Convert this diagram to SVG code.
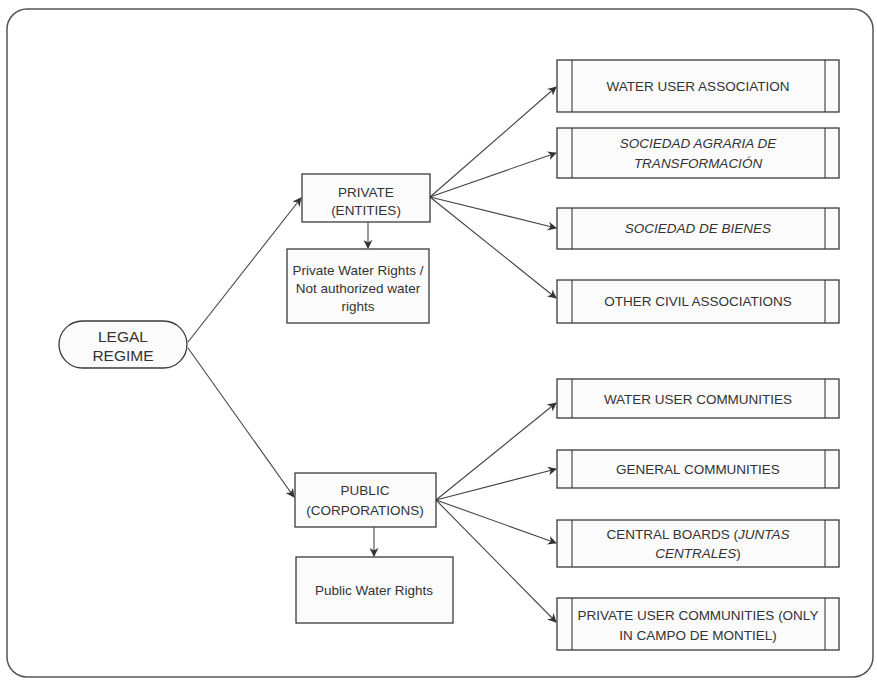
<svg xmlns="http://www.w3.org/2000/svg" width="877" height="680" viewBox="0 0 877 680">
<style>
  .frame{fill:#fff;stroke:#555;stroke-width:1.5}
  .box{fill:#fbfbfb;stroke:#3a3a3a;stroke-width:1.3}
  .sub{fill:none;stroke:#3a3a3a;stroke-width:1.1}
  .t{font-family:"Liberation Sans",Arial,sans-serif;font-size:13.5px;fill:#333;text-anchor:middle}
  .tl{font-family:"Liberation Sans",Arial,sans-serif;font-size:15.5px;fill:#333;text-anchor:middle}
  .i{font-style:italic}
  .c{fill:none;stroke:#444;stroke-width:1.1;marker-end:url(#ah)}
</style>
<defs>
  <marker id="ah" viewBox="0 0 10 10" refX="9" refY="5" markerWidth="9" markerHeight="9" markerUnits="userSpaceOnUse" orient="auto">
    <path d="M0,0 L10,5 L0,10 L3,5 Z" fill="#333"/>
  </marker>
</defs>
<rect class="frame" x="7" y="9" width="866" height="668" rx="20"/>

<g id="connectors">
  <line class="c" x1="188" y1="342" x2="301" y2="198"/>
  <line class="c" x1="188" y1="348" x2="294" y2="497"/>
  <line class="c" x1="368" y1="222" x2="368" y2="248"/>
  <line class="c" x1="374" y1="527" x2="374" y2="556"/>
  <line class="c" x1="430" y1="197" x2="556" y2="87"/>
  <line class="c" x1="430" y1="197" x2="556" y2="153"/>
  <line class="c" x1="430" y1="197" x2="556" y2="228"/>
  <line class="c" x1="430" y1="197" x2="556" y2="298"/>
  <line class="c" x1="436" y1="500" x2="556" y2="403"/>
  <line class="c" x1="436" y1="500" x2="556" y2="469"/>
  <line class="c" x1="436" y1="500" x2="556" y2="543"/>
  <line class="c" x1="436" y1="500" x2="556" y2="622"/>
</g>

<g id="legal-regime">
  <rect class="box" x="59" y="321" width="128" height="47" rx="23.5"/>
  <text class="tl" x="123" y="342">LEGAL</text>
  <text class="tl" x="123" y="361">REGIME</text>
</g>

<g id="private">
  <rect class="box" x="302" y="174" width="128" height="48"/>
  <text class="t" x="366" y="197">PRIVATE</text>
  <text class="t" x="366" y="215">(ENTITIES)</text>
</g>
<g id="private-rights">
  <rect class="box" x="287" y="249" width="142" height="74"/>
  <text class="t" x="358" y="275">Private Water Rights /</text>
  <text class="t" x="358" y="293">Not authorized water</text>
  <text class="t" x="358" y="311">rights</text>
</g>

<g id="public">
  <rect class="box" x="295" y="473" width="141" height="54"/>
  <text class="t" x="365" y="495">PUBLIC</text>
  <text class="t" x="365" y="515">(CORPORATIONS)</text>
</g>
<g id="public-rights">
  <rect class="box" x="296" y="557" width="157" height="66"/>
  <text class="t" x="374" y="595">Public Water Rights</text>
</g>

<g id="water-user-association">
  <rect class="box" x="557" y="60" width="282" height="52"/>
  <line class="sub" x1="572" y1="60" x2="572" y2="112"/><line class="sub" x1="825" y1="60" x2="825" y2="112"/>
  <text class="t" x="698" y="91">WATER USER ASSOCIATION</text>
</g>
<g id="sat">
  <rect class="box" x="557" y="128" width="282" height="50"/>
  <line class="sub" x1="572" y1="128" x2="572" y2="178"/><line class="sub" x1="825" y1="128" x2="825" y2="178"/>
  <text class="t i" x="698" y="148">SOCIEDAD AGRARIA DE</text>
  <text class="t i" x="698" y="168">TRANSFORMACIÓN</text>
</g>
<g id="sociedad-bienes">
  <rect class="box" x="557" y="208" width="282" height="41"/>
  <line class="sub" x1="572" y1="208" x2="572" y2="249"/><line class="sub" x1="825" y1="208" x2="825" y2="249"/>
  <text class="t i" x="698" y="233">SOCIEDAD DE BIENES</text>
</g>
<g id="other-civil">
  <rect class="box" x="557" y="280" width="282" height="43"/>
  <line class="sub" x1="572" y1="280" x2="572" y2="323"/><line class="sub" x1="825" y1="280" x2="825" y2="323"/>
  <text class="t" x="698" y="306">OTHER CIVIL ASSOCIATIONS</text>
</g>

<g id="water-user-communities">
  <rect class="box" x="557" y="379" width="282" height="39"/>
  <line class="sub" x1="572" y1="379" x2="572" y2="418"/><line class="sub" x1="825" y1="379" x2="825" y2="418"/>
  <text class="t" x="698" y="404">WATER USER COMMUNITIES</text>
</g>
<g id="general-communities">
  <rect class="box" x="557" y="450" width="282" height="38"/>
  <line class="sub" x1="572" y1="450" x2="572" y2="488"/><line class="sub" x1="825" y1="450" x2="825" y2="488"/>
  <text class="t" x="698" y="474">GENERAL COMMUNITIES</text>
</g>
<g id="central-boards">
  <rect class="box" x="557" y="520" width="282" height="47"/>
  <line class="sub" x1="572" y1="520" x2="572" y2="567"/><line class="sub" x1="825" y1="520" x2="825" y2="567"/>
  <text class="t" x="698" y="539">CENTRAL BOARDS (<tspan class="i">JUNTAS</tspan></text>
  <text class="t" x="698" y="558"><tspan class="i">CENTRALES</tspan>)</text>
</g>
<g id="private-user-communities">
  <rect class="box" x="557" y="598" width="282" height="52"/>
  <line class="sub" x1="572" y1="598" x2="572" y2="650"/><line class="sub" x1="825" y1="598" x2="825" y2="650"/>
  <text class="t" x="698" y="620">PRIVATE USER COMMUNITIES (ONLY</text>
  <text class="t" x="698" y="640">IN CAMPO DE MONTIEL)</text>
</g>
</svg>
